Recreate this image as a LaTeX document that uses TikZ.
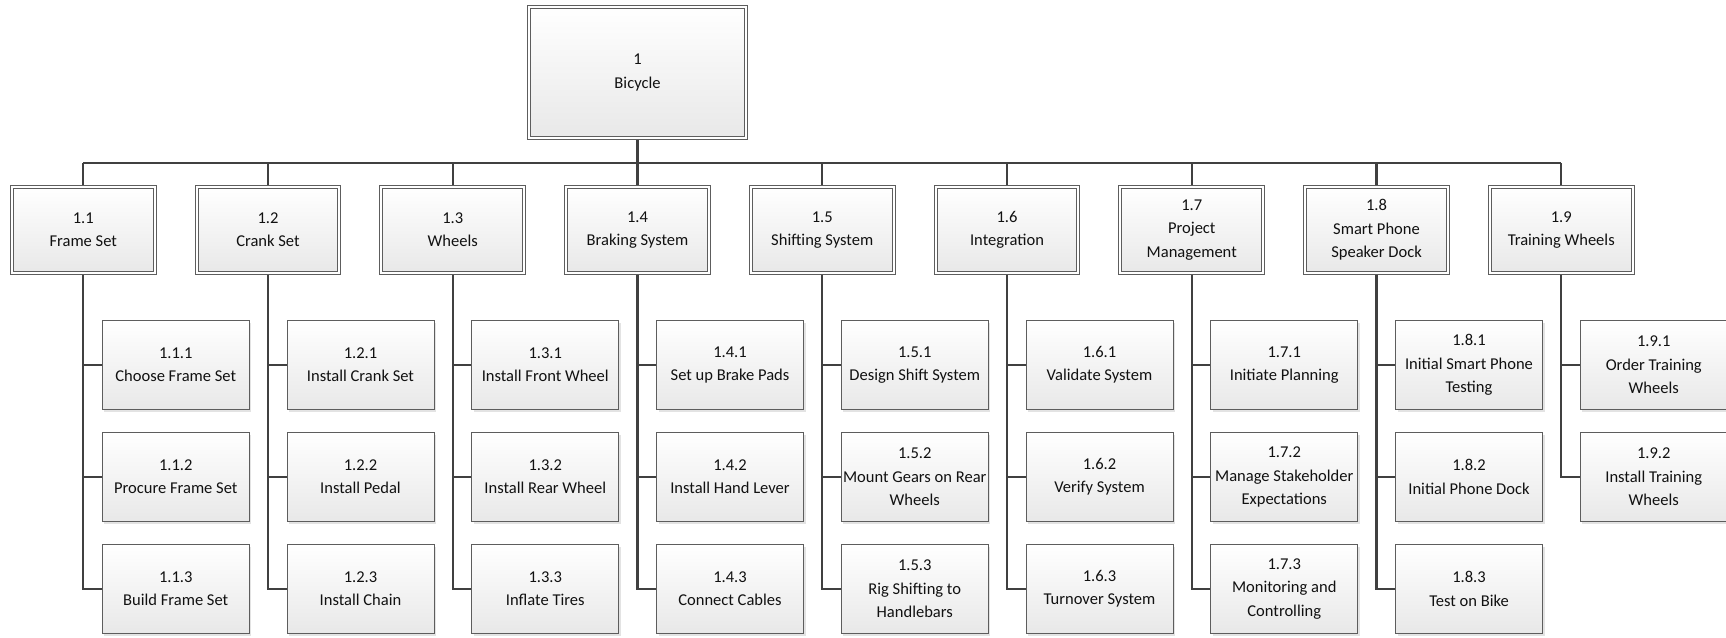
\documentclass[tikz,border=0pt]{standalone}
\usepackage{fontspec}
\setmainfont{Carlito}
\usetikzlibrary{positioning,shadows,backgrounds}
\definecolor{wbsline}{HTML}{404040}
\definecolor{wbstext}{HTML}{111111}
\tikzset{
  wbsbox/.style={draw=wbsline!85, line width=0.75pt, top color=white, bottom color=black!9,
    outer sep=0pt, inner sep=1pt, align=center, text=wbstext,
    font=\fontsize{12.4}{17.5}\selectfont,
    drop shadow={shadow xshift=1.5pt, shadow yshift=-1.5pt, fill=black!22}},
  topbox/.style={wbsbox, double=white, double distance=1.5pt, minimum width=162.75pt, minimum height=98.25pt},
  lonebox/.style={wbsbox, double=white, double distance=1.5pt, minimum width=107pt, minimum height=64.5pt},
  leafbox/.style={wbsbox, minimum width=110.25pt, minimum height=66.75pt},
  wbsconn/.style={draw=wbsline, line width=1.8pt}
}

\begin{document}
\begin{tikzpicture}[node distance=31.5625pt]
  \useasboundingbox (0,0) rectangle (1294.5pt,-477.75pt);
  \node[topbox] (w) at (478.125pt,-54.375pt) {1\\Bicycle};

  % level 1
  \node[lonebox, below=36.75pt of w] (w4) {1.4\\Braking System};
  \node[lonebox, left=of w4] (w3) {1.3\\Wheels};
  \node[lonebox, left=of w3] (w2) {1.2\\Crank Set};
  \node[lonebox, left=of w2] (w1) {1.1\\Frame Set};
  \node[lonebox, right=of w4] (w5) {1.5\\Shifting System};
  \node[lonebox, right=of w5] (w6) {1.6\\Integration};
  \node[lonebox, right=of w6] (w7) {1.7\\Project\\Management};
  \node[lonebox, right=of w7] (w8) {1.8\\Smart Phone\\Speaker Dock};
  \node[lonebox, right=of w8] (w9) {1.9\\Training Wheels};

  % level 2
  \node[leafbox, below=35.625pt of w1, xshift=69.375pt] (w11) {1.1.1\\Choose Frame Set};
  \node[leafbox, below=17.25pt of w11] (w12) {1.1.2\\Procure Frame Set};
  \node[leafbox, below=17.25pt of w12] (w13) {1.1.3\\Build Frame Set};

  \node[leafbox, below=35.625pt of w2, xshift=69.375pt] (w21) {1.2.1\\Install Crank Set};
  \node[leafbox, below=17.25pt of w21] (w22) {1.2.2\\Install Pedal};
  \node[leafbox, below=17.25pt of w22] (w23) {1.2.3\\Install Chain};

  \node[leafbox, below=35.625pt of w3, xshift=69.375pt] (w31) {1.3.1\\Install Front Wheel};
  \node[leafbox, below=17.25pt of w31] (w32) {1.3.2\\Install Rear Wheel};
  \node[leafbox, below=17.25pt of w32] (w33) {1.3.3\\Inflate Tires};

  \node[leafbox, below=35.625pt of w4, xshift=69.375pt] (w41) {1.4.1\\Set up Brake Pads};
  \node[leafbox, below=17.25pt of w41] (w42) {1.4.2\\Install Hand Lever};
  \node[leafbox, below=17.25pt of w42] (w43) {1.4.3\\Connect Cables};

  \node[leafbox, below=35.625pt of w5, xshift=69.375pt] (w51) {1.5.1\\Design Shift System};
  \node[leafbox, below=17.25pt of w51] (w52) {1.5.2\\Mount Gears on Rear\\Wheels};
  \node[leafbox, below=17.25pt of w52] (w53) {1.5.3\\Rig Shifting to\\Handlebars};

  \node[leafbox, below=35.625pt of w6, xshift=69.375pt] (w61) {1.6.1\\Validate System};
  \node[leafbox, below=17.25pt of w61] (w62) {1.6.2\\Verify System};
  \node[leafbox, below=17.25pt of w62] (w63) {1.6.3\\Turnover System};

  \node[leafbox, below=35.625pt of w7, xshift=69.375pt] (w71) {1.7.1\\Initiate Planning};
  \node[leafbox, below=17.25pt of w71] (w72) {1.7.2\\Manage Stakeholder\\Expectations};
  \node[leafbox, below=17.25pt of w72] (w73) {1.7.3\\Monitoring and\\Controlling};

  \node[leafbox, below=35.625pt of w8, xshift=69.375pt] (w81) {1.8.1\\Initial Smart Phone\\Testing};
  \node[leafbox, below=17.25pt of w81] (w82) {1.8.2\\Initial Phone Dock};
  \node[leafbox, below=17.25pt of w82] (w83) {1.8.3\\Test on Bike};

  \node[leafbox, below=35.625pt of w9, xshift=69.375pt] (w91) {1.9.1\\Order Training\\Wheels};
  \node[leafbox, below=17.25pt of w91] (w92) {1.9.2\\Install Training\\Wheels};

  % connectors
  \begin{scope}[on background layer]
    \coordinate (bus) at ([yshift=-18.75pt]w.south);
    \draw[wbsconn] (w.south) -- (bus);
    \draw[wbsconn] (bus -| w1) -- (bus -| w9);
    \foreach \k in {1,...,9}
      \draw[wbsconn] (bus -| w\k) -- (w\k.north);
    \foreach \k in {1,...,8}
      \foreach \j in {1,2,3}
        \draw[wbsconn] (w\k.south) |- (w\k\j.west);
    \foreach \j in {1,2}
      \draw[wbsconn] (w9.south) |- (w9\j.west);
  \end{scope}
\end{tikzpicture}
\end{document}
